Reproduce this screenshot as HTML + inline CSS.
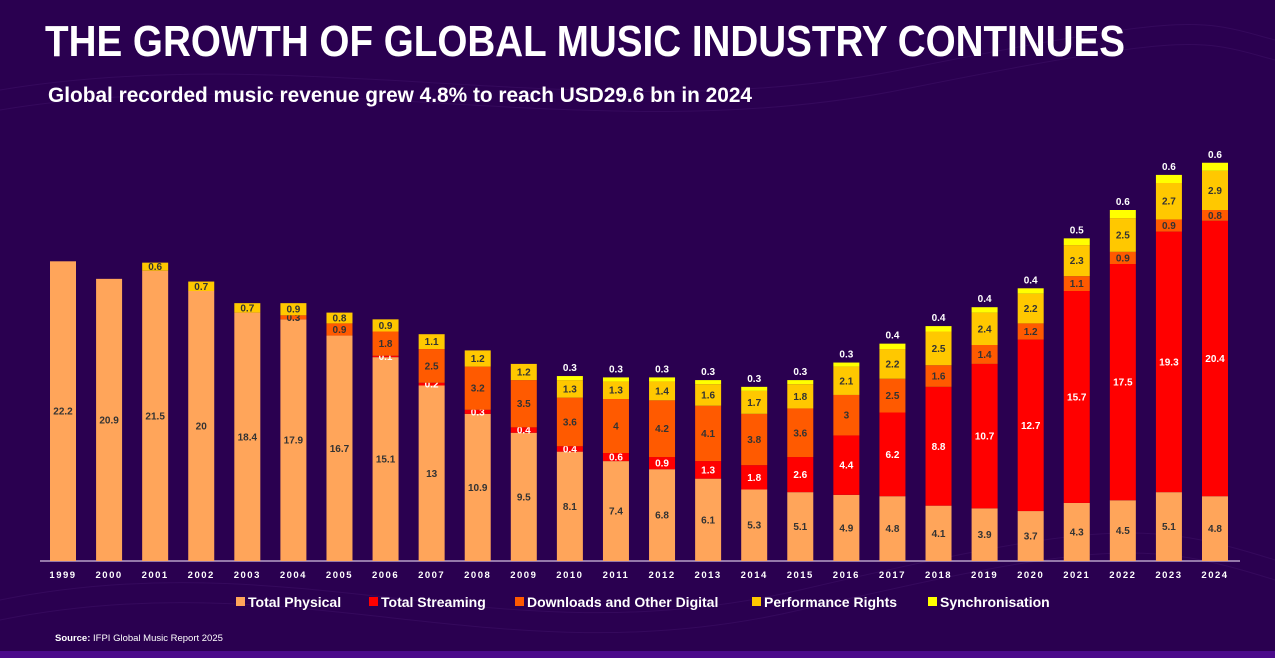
<!DOCTYPE html>
<html><head><meta charset="utf-8"><style>
html,body{margin:0;padding:0;background:#2a0050;}
svg{display:block;font-family:"Liberation Sans",sans-serif;}
</style></head><body>
<svg id="chart" width="1275" height="658" viewBox="0 0 1275 658" xmlns="http://www.w3.org/2000/svg">
<rect x="0" y="0" width="1275" height="658" fill="#2a0050"/>
<g fill="none" stroke="#3a0e62" stroke-width="1" opacity="0.7">
<path d="M0,600 C300,540 500,660 800,590 S1150,520 1275,560"/>
<path d="M0,620 C300,560 500,680 800,610 S1150,540 1275,580"/>
<path d="M0,90 C300,40 600,130 900,70 S1200,20 1275,40"/>
<path d="M0,110 C300,60 600,150 900,90 S1200,40 1275,60"/>
</g>
<rect x="0" y="651" width="1275" height="7" fill="#4a0a8a"/>
<text x="45" y="56" fill="#fff" font-weight="bold" font-size="44" textLength="1080" lengthAdjust="spacingAndGlyphs">THE GROWTH OF GLOBAL MUSIC INDUSTRY CONTINUES</text>
<text x="48" y="102" fill="#fff" font-weight="bold" font-size="21" textLength="704" lengthAdjust="spacingAndGlyphs">Global recorded music revenue grew 4.8% to reach USD29.6 bn in 2024</text>
<line x1="40" y1="561" x2="1240" y2="561" stroke="#b8a0c8" stroke-width="1.5"/>
<g id="bars"></g>
<g id="xticks"></g>
<g id="legend"></g>
<text x="55" y="641" fill="#fff" font-size="9.5"><tspan font-weight="bold">Source:</tspan> IFPI Global Music Report 2025</text>
</svg>
<script>
const years=[1999,2000,2001,2002,2003,2004,2005,2006,2007,2008,2009,2010,2011,2012,2013,2014,2015,2016,2017,2018,2019,2020,2021,2022,2023,2024];
const physical=[22.2,20.9,21.5,20,18.4,17.9,16.7,15.1,13,10.9,9.5,8.1,7.4,6.8,6.1,5.3,5.1,4.9,4.8,4.1,3.9,3.7,4.3,4.5,5.1,4.8];
const streaming=[0,0,0,0,0,0,0,0.1,0.2,0.3,0.4,0.4,0.6,0.9,1.3,1.8,2.6,4.4,6.2,8.8,10.7,12.7,15.7,17.5,19.3,20.4];
const downloads=[0,0,0,0,0,0.3,0.9,1.8,2.5,3.2,3.5,3.6,4,4.2,4.1,3.8,3.6,3,2.5,1.6,1.4,1.2,1.1,0.9,0.9,0.8];
const performance=[0,0,0.6,0.7,0.7,0.9,0.8,0.9,1.1,1.2,1.2,1.3,1.3,1.4,1.6,1.7,1.8,2.1,2.2,2.5,2.4,2.2,2.3,2.5,2.7,2.9];
const sync=[0,0,0,0,0,0,0,0,0,0,0,0.3,0.3,0.3,0.3,0.3,0.3,0.3,0.4,0.4,0.4,0.4,0.5,0.6,0.6,0.6];
const seriesNames=["Total Physical","Total Streaming","Downloads and Other Digital","Performance Rights","Synchronisation"];
const colors=["#ffa55a","#ff0000","#ff5a00","#ffc800","#ffff00"];
const NS="http://www.w3.org/2000/svg";
const base=561, pxPerUnit=13.5, x0=63, step=46.08, bw=26;
function xScale(i){return x0+i*step;}
function yScale(v){return base-v*pxPerUnit;}
function mk(tag,attrs,parent){const e=document.createElementNS(NS,tag);for(const k in attrs)e.setAttribute(k,attrs[k]);parent.appendChild(e);return e;}
const bars=document.getElementById('bars');
const series=[physical,streaming,downloads,performance,sync];
const keys=["physical","streaming","downloads","performance","sync"];
years.forEach((yr,i)=>{
  let cum=0;const cx=xScale(i);
  series.forEach((s,k)=>{
    const v=s[i]; if(!v) return;
    const y1=yScale(cum), y2=yScale(cum+v);
    const r=mk('rect',{x:cx-bw/2,y:y2,width:bw,height:y1-y2,fill:colors[k]},bars);
    
    
    let ty, fill;
    if(k===4){ty=y2-5;fill="#fff";}
    else {ty=(y1+y2)/2+3.5;fill=(k===1)?"#fff":"#333";}
    const t=mk('text',{x:cx,y:ty,'text-anchor':'middle','font-size':'10','font-weight':'bold',fill:fill},bars);
    
    
    t.textContent=v;
    cum+=v;
  });
});
const xt=document.getElementById('xticks');
years.forEach((yr,i)=>{
  const t=mk('text',{x:xScale(i),y:578,'text-anchor':'middle','font-size':'9.5','font-weight':'bold',fill:'#fff','letter-spacing':'1.5'},xt);
  
  
  t.textContent=yr;
});
const lg=document.getElementById('legend');
const legX=[236,369,515,752,928];
seriesNames.forEach((n,k)=>{
  const g=mk('g',{},lg);
  
  
  mk('rect',{x:legX[k],y:597,width:9,height:9,fill:colors[k]},g);
  const t=mk('text',{x:legX[k]+12,y:607,'font-size':'14','font-weight':'bold',fill:'#fff'},g);
  t.textContent=n;
});
</script>
</body></html>
